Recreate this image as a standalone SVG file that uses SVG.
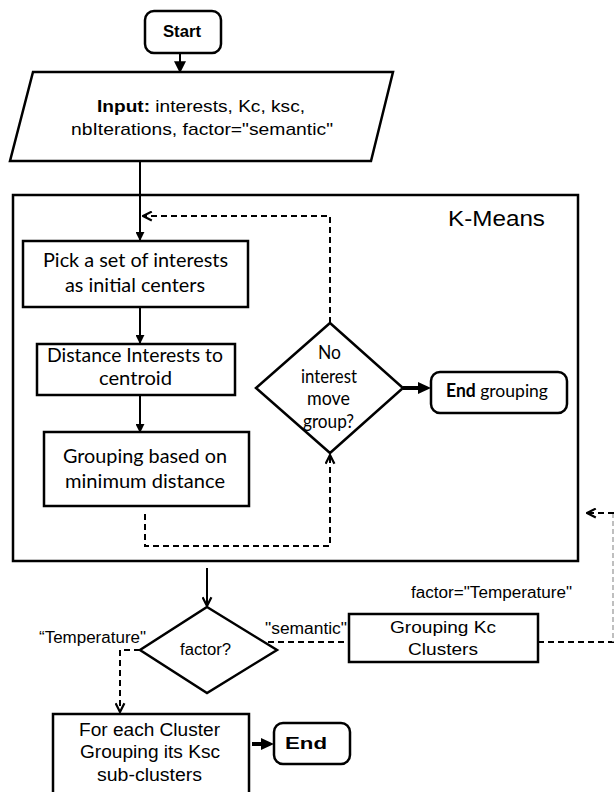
<svg xmlns="http://www.w3.org/2000/svg" width="614" height="792" viewBox="0 0 614 792">
<style>
.box{fill:#fff;stroke:#000;stroke-width:2.5}
.frame{fill:none;stroke:#000;stroke-width:2.5}
.ln{fill:none;stroke:#000;stroke-width:2}
.dash{fill:none;stroke:#000;stroke-width:2;stroke-dasharray:6,4}
.gdash{fill:none;stroke:#aaa;stroke-width:1.5;stroke-dasharray:5,3}
.thick{fill:none;stroke:#000;stroke-width:4}
.a{font-family:"Liberation Sans",Arial,sans-serif;fill:#000}
.c{font-family:Lato,"Open Sans",sans-serif;fill:#000}
.b{font-weight:bold}
</style>
<defs>
<marker id="fill" viewBox="0 0 10 10" refX="9" refY="5" markerWidth="12" markerHeight="12" markerUnits="userSpaceOnUse" orient="auto">
<path d="M0,0 L10,5 L0,10 z" fill="#000"/>
</marker>
<marker id="fillS" viewBox="0 0 10 10" refX="9" refY="5" markerWidth="9" markerHeight="9" markerUnits="userSpaceOnUse" orient="auto">
<path d="M0,0 L10,5 L0,10 z" fill="#000"/>
</marker>
<marker id="open" viewBox="0 0 10 10" refX="9" refY="5" markerWidth="11" markerHeight="11" markerUnits="userSpaceOnUse" orient="auto">
<path d="M1,1 L9,5 L1,9" fill="none" stroke="#000" stroke-width="2"/>
</marker>
</defs>

<g id="connectors">
<line class="ln" x1="180" y1="53" x2="180" y2="72" marker-end="url(#fill)"/>
<line class="ln" x1="140" y1="161" x2="140" y2="240" marker-end="url(#fillS)"/>
<path class="dash" d="M330,323 V216 H143" marker-end="url(#open)"/>
<line class="ln" x1="140" y1="307" x2="140" y2="343" marker-end="url(#fillS)"/>
<line class="ln" x1="140" y1="395" x2="140" y2="432" marker-end="url(#fillS)"/>
<path class="dash" d="M145,514 V546 H330 V455" marker-end="url(#open)"/>
<line class="thick" x1="403" y1="388" x2="420" y2="388"/>
<path d="M418,382 L431,388 L418,394 z" fill="#000"/>
<line class="ln" x1="207" y1="568" x2="207" y2="606" marker-end="url(#open)"/>
<path class="dash" d="M140,650 H120 V712" marker-end="url(#open)"/>
<line class="dash" x1="268" y1="642" x2="349" y2="642"/>
<line class="dash" x1="538" y1="642" x2="614" y2="642"/>
<line class="gdash" x1="613" y1="513" x2="613" y2="642"/>
<line class="dash" x1="614" y1="513" x2="587" y2="513" marker-end="url(#open)"/>
<line class="thick" x1="252" y1="744" x2="263" y2="744"/>
<path d="M261,738 L274,744 L261,750 z" fill="#000"/>
</g>

<g id="start">
<rect class="box" x="145" y="11" width="76" height="42" rx="9"/>
<text class="a b" x="182" y="37" font-size="16" text-anchor="middle" textLength="38" lengthAdjust="spacingAndGlyphs">Start</text>
</g>

<g id="input">
<polygon class="box" points="33,72 393,72 371,161 10,161"/>
<text class="a" x="201" y="112" font-size="17" text-anchor="middle" textLength="208" lengthAdjust="spacingAndGlyphs"><tspan class="b">Input:</tspan> interests, Kc, ksc,</text>
<text class="a" x="202" y="135" font-size="17" text-anchor="middle" textLength="262" lengthAdjust="spacingAndGlyphs">nbIterations, factor="semantic"</text>
</g>

<g id="kmeans">
<rect class="frame" x="13" y="195" width="565" height="366"/>
<text class="a" x="448" y="226" font-size="22" textLength="97" lengthAdjust="spacingAndGlyphs">K-Means</text>
</g>

<g id="pick">
<rect class="box" x="23" y="241" width="225" height="66"/>
<text class="c" x="135.5" y="267" font-size="19" text-anchor="middle" textLength="185" lengthAdjust="spacingAndGlyphs">Pick a set of interests</text>
<text class="c" x="135" y="292" font-size="19" text-anchor="middle" textLength="140" lengthAdjust="spacingAndGlyphs">as initial centers</text>
</g>

<g id="distance">
<rect class="box" x="37" y="344" width="198" height="51"/>
<text class="c" x="135" y="362" font-size="19" text-anchor="middle" textLength="176" lengthAdjust="spacingAndGlyphs">Distance Interests to</text>
<text class="c" x="135.5" y="385" font-size="19" text-anchor="middle" textLength="73" lengthAdjust="spacingAndGlyphs">centroid</text>
</g>

<g id="grouping">
<rect class="box" x="44" y="432" width="205" height="74"/>
<text class="c" x="145" y="463" font-size="19" text-anchor="middle" textLength="164" lengthAdjust="spacingAndGlyphs">Grouping based on</text>
<text class="c" x="145" y="488" font-size="19" text-anchor="middle" textLength="160" lengthAdjust="spacingAndGlyphs">minimum distance</text>
</g>

<g id="decision-move">
<polygon class="box" points="330,323 403,388 330,453 256,388"/>
<text class="c" x="329.5" y="359" font-size="19" text-anchor="middle" textLength="23" lengthAdjust="spacingAndGlyphs">No</text>
<text class="c" x="329" y="383" font-size="19" text-anchor="middle" textLength="56" lengthAdjust="spacingAndGlyphs">interest</text>
<text class="c" x="328.5" y="405" font-size="19" text-anchor="middle" textLength="43" lengthAdjust="spacingAndGlyphs">move</text>
<text class="c" x="328.5" y="428" font-size="19" text-anchor="middle" textLength="51" lengthAdjust="spacingAndGlyphs">group?</text>
</g>

<g id="end-grouping">
<rect class="box" x="431" y="372" width="136" height="41" rx="9"/>
<text class="c" x="497" y="397" font-size="18" text-anchor="middle" textLength="102" lengthAdjust="spacingAndGlyphs"><tspan class="b">End</tspan> grouping</text>
</g>

<g id="decision-factor">
<polygon class="box" points="207,607 277,650 207,693 140,650"/>
<text class="a" x="205.5" y="655" font-size="16" text-anchor="middle" textLength="51" lengthAdjust="spacingAndGlyphs">factor?</text>
</g>

<g id="labels">
<text class="a" x="39" y="643" font-size="16" textLength="107" lengthAdjust="spacingAndGlyphs">“Temperature"</text>
<text class="a" x="265" y="634" font-size="16" textLength="82" lengthAdjust="spacingAndGlyphs">"semantic"</text>
<text class="a" x="411" y="598" font-size="16" textLength="161" lengthAdjust="spacingAndGlyphs">factor="Temperature"</text>
</g>

<g id="grouping-kc">
<rect class="box" x="349" y="614" width="189" height="48"/>
<text class="a" x="443" y="633" font-size="17" text-anchor="middle" textLength="106" lengthAdjust="spacingAndGlyphs">Grouping Kc</text>
<text class="a" x="443" y="655" font-size="17" text-anchor="middle" textLength="70" lengthAdjust="spacingAndGlyphs">Clusters</text>
</g>

<g id="for-each">
<rect class="box" x="53" y="714" width="196" height="90"/>
<text class="a" x="149.5" y="736" font-size="17.5" text-anchor="middle" textLength="141" lengthAdjust="spacingAndGlyphs">For each Cluster</text>
<text class="a" x="150" y="758" font-size="17.5" text-anchor="middle" textLength="140" lengthAdjust="spacingAndGlyphs">Grouping its Ksc</text>
<text class="a" x="149.5" y="781" font-size="17.5" text-anchor="middle" textLength="105" lengthAdjust="spacingAndGlyphs">sub-clusters</text>
</g>

<g id="end">
<rect class="box" x="274" y="723" width="76" height="41" rx="9"/>
<text class="a b" x="306" y="749" font-size="16" text-anchor="middle" textLength="42" lengthAdjust="spacingAndGlyphs">End</text>
</g>
</svg>
